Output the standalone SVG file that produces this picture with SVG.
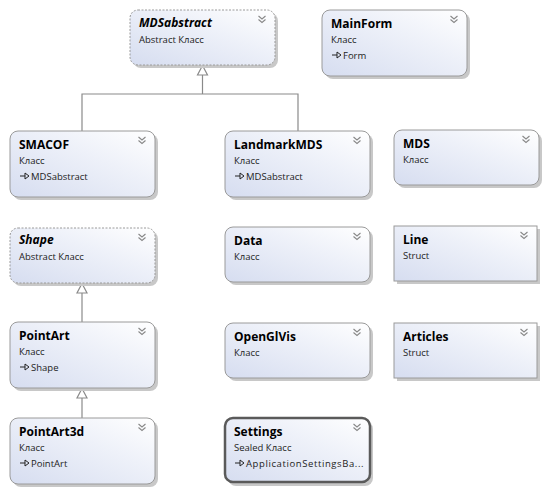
<svg xmlns="http://www.w3.org/2000/svg" width="547" height="493" viewBox="0 0 547 493">
<style>
.box{fill:url(#g);stroke:#9a9a9a;stroke-width:1}
.abs{stroke-dasharray:2 1.5}
.sel{stroke:#5a5a5a;stroke-width:2.5}
.sh{fill:#c8c8c8}
.t{font-family:"Open Sans","Noto Sans",sans-serif;font-size:12px;font-weight:bold;fill:#000}
.ti{font-style:italic}
.s{font-family:"Open Sans","Noto Sans",sans-serif;font-size:9.5px;fill:#222}
.chev{fill:none;stroke:#888;stroke-width:1.1}
.conn{fill:none;stroke:#8a8a8a;stroke-width:1.2}
.tri{fill:#fff;stroke:#8a8a8a;stroke-width:1.2}
.inh{fill:none;stroke:#222;stroke-width:1}
</style>
<defs>
<linearGradient id="g" x1="0" y1="1" x2="1" y2="0">
<stop offset="0" stop-color="#d6ddf0"/>
<stop offset="0.6" stop-color="#eef1f9"/>
<stop offset="1" stop-color="#ffffff"/>
</linearGradient>
<g id="chev"><path class="chev" d="M-3.5,-3 L0,0 L3.5,-3 M-3.5,0.5 L0,3.5 L3.5,0.5"/></g>
<g id="inh"><path class="inh" d="M0,0 H5"/><path class="inh" d="M5,-3 L9,0 L5,3 Z"/></g>
</defs>

<g id="connectors">
<path class="conn" d="M202.5,75 V94 M82,131 V94 H298 V131"/>
<path class="tri" d="M202.5,65.5 L197.5,75 H207.5 Z"/>
<path class="conn" d="M82,293 V322"/>
<path class="tri" d="M82,283.5 L77,293 H87 Z"/>
<path class="conn" d="M82,398 V418"/>
<path class="tri" d="M82,388.5 L77,398 H87 Z"/>
</g>

<g id="MDSabstract">
<rect class="sh" x="133" y="13" width="145" height="55" rx="8"/>
<rect class="box abs" x="130" y="10" width="145" height="55" rx="8"/>
<text class="t ti" x="139" y="27">MDSabstract</text>
<text class="s" x="139" y="43">Abstract Класс</text>
<use href="#chev" x="262" y="19"/>
</g>

<g id="MainForm">
<rect class="sh" x="325" y="13" width="145" height="66" rx="8"/>
<rect class="box" x="322" y="10" width="145" height="66" rx="8"/>
<text class="t" x="331" y="28">MainForm</text>
<text class="s" x="331" y="43">Класс</text>
<use href="#inh" x="332" y="55"/>
<text class="s" x="343" y="58.5">Form</text>
<use href="#chev" x="454" y="19"/>
</g>

<g id="SMACOF">
<rect class="sh" x="13" y="134" width="145" height="66" rx="8"/>
<rect class="box" x="10" y="131" width="145" height="66" rx="8"/>
<text class="t" x="19" y="149">SMACOF</text>
<text class="s" x="19" y="164">Класс</text>
<use href="#inh" x="20" y="176"/>
<text class="s" x="31" y="179.5">MDSabstract</text>
<use href="#chev" x="142" y="140"/>
</g>

<g id="LandmarkMDS">
<rect class="sh" x="228" y="134" width="145" height="66" rx="8"/>
<rect class="box" x="225" y="131" width="145" height="66" rx="8"/>
<text class="t" x="234" y="149">LandmarkMDS</text>
<text class="s" x="234" y="164">Класс</text>
<use href="#inh" x="235" y="176"/>
<text class="s" x="246" y="179.5">MDSabstract</text>
<use href="#chev" x="357" y="140"/>
</g>

<g id="MDS">
<rect class="sh" x="397" y="133" width="145" height="55" rx="8"/>
<rect class="box" x="394" y="130" width="145" height="55" rx="8"/>
<text class="t" x="403" y="148">MDS</text>
<text class="s" x="403" y="163">Класс</text>
<use href="#chev" x="526" y="139"/>
</g>

<g id="Shape">
<rect class="sh" x="13" y="231" width="145" height="55" rx="8"/>
<rect class="box abs" x="10" y="228" width="145" height="55" rx="8"/>
<text class="t ti" x="19" y="244">Shape</text>
<text class="s" x="19" y="260">Abstract Класс</text>
<use href="#chev" x="142" y="237"/>
</g>

<g id="Data">
<rect class="sh" x="228" y="230" width="145" height="55" rx="8"/>
<rect class="box" x="225" y="227" width="145" height="55" rx="8"/>
<text class="t" x="234" y="245">Data</text>
<text class="s" x="234" y="260">Класс</text>
<use href="#chev" x="357" y="236"/>
</g>

<g id="Line">
<rect class="sh" x="397" y="229" width="143" height="55"/>
<rect class="box" x="394" y="226" width="143" height="55"/>
<text class="t" x="403" y="244">Line</text>
<text class="s" x="403" y="259">Struct</text>
<use href="#chev" x="524" y="235"/>
</g>

<g id="PointArt">
<rect class="sh" x="13" y="325" width="145" height="66" rx="8"/>
<rect class="box" x="10" y="322" width="145" height="66" rx="8"/>
<text class="t" x="19" y="340">PointArt</text>
<text class="s" x="19" y="355">Класс</text>
<use href="#inh" x="20" y="367"/>
<text class="s" x="31" y="370.5">Shape</text>
<use href="#chev" x="142" y="331"/>
</g>

<g id="OpenGlVis">
<rect class="sh" x="228" y="326" width="145" height="55" rx="8"/>
<rect class="box" x="225" y="323" width="145" height="55" rx="8"/>
<text class="t" x="234" y="341">OpenGlVis</text>
<text class="s" x="234" y="356">Класс</text>
<use href="#chev" x="357" y="332"/>
</g>

<g id="Articles">
<rect class="sh" x="397" y="326" width="143" height="55"/>
<rect class="box" x="394" y="323" width="143" height="55"/>
<text class="t" x="403" y="341">Articles</text>
<text class="s" x="403" y="356">Struct</text>
<use href="#chev" x="524" y="332"/>
</g>

<g id="PointArt3d">
<rect class="sh" x="13" y="421" width="145" height="66" rx="8"/>
<rect class="box" x="10" y="418" width="145" height="66" rx="8"/>
<text class="t" x="19" y="436">PointArt3d</text>
<text class="s" x="19" y="451">Класс</text>
<use href="#inh" x="20" y="463"/>
<text class="s" x="31" y="466.5">PointArt</text>
<use href="#chev" x="142" y="427"/>
</g>

<g id="Settings">
<rect class="sh" x="228" y="421" width="145" height="65" rx="8"/>
<rect class="box sel" x="225" y="418" width="145" height="64" rx="8"/>
<text class="t" x="234" y="436">Settings</text>
<text class="s" x="234" y="451">Sealed Класс</text>
<use href="#inh" x="235" y="463"/>
<text class="s" x="246" y="466.5" letter-spacing="0.6">ApplicationSettingsBa...</text>
<use href="#chev" x="357" y="427"/>
</g>
</svg>
